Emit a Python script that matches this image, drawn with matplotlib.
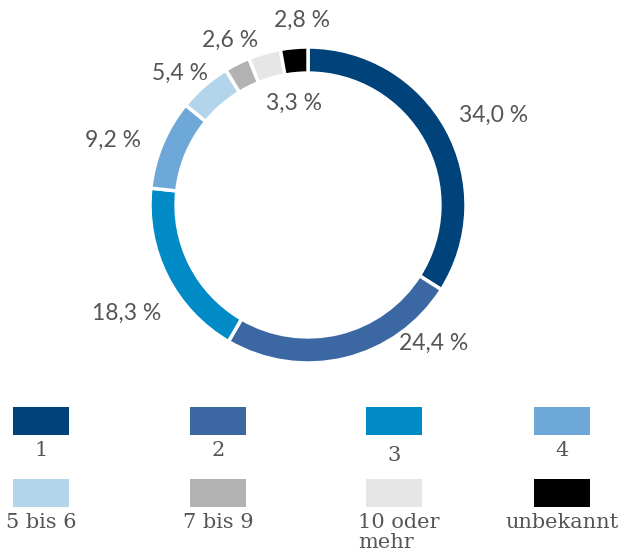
import matplotlib.pyplot as plt
from matplotlib.patches import Rectangle

# data
categories = ['1', '2', '3', '4', '5 bis 6', '7 bis 9', '10 oder\nmehr', 'unbekannt']
shares = [34.0, 24.4, 18.3, 9.2, 5.4, 2.6, 3.3, 2.8]
colors = ['#00427A', '#3B67A3', '#008BC6', '#6DA8D8', '#B2D5EB', '#B2B2B2', '#E6E6E6', '#000000']

# label positions in pixels (from top-left)
label_pos = [(494, 115), (434, 343), (127, 313), (113, 140),
             (180, 73), (230, 40), (294, 103), (302, 20)]

W, H = 635, 560
text_color = '#555555'

fig = plt.figure(figsize=(W / 100, H / 100), dpi=100)
ax = fig.add_axes([0, 0, 1, 1])

cx, cy, R = 308, H - 205, 158
ax.pie(shares, colors=colors, startangle=90, counterclock=False,
       center=(cx, cy), radius=R, frame=True,
       wedgeprops=dict(width=R * 0.165, edgecolor='white', linewidth=2.5))
ax.set_xlim(0, W)
ax.set_ylim(0, H)
ax.set_aspect('equal')
ax.axis('off')

for v, (x, y) in zip(shares, label_pos):
    ax.text(x, H - y, f'{v:.1f} %'.replace('.', ','), ha='center', va='center',
            fontsize=16.5, color=text_color, family='Lato')

# legend
col_x = [13, 190, 366, 534]
row_y = [407, 479]
sw, sh = 56, 28
for i, (cat, c) in enumerate(zip(categories, colors)):
    x = col_x[i % 4]
    y = row_y[i // 4]
    ax.add_patch(Rectangle((x, H - y - sh), sw, sh, facecolor=c, edgecolor='none'))
    ty = y + sh + 6
    if cat == '3':
        ty += 5
    ha = 'center'
    tx = x + sw / 2
    if cat.startswith('10'):
        tx = x - 8
        ha = 'left'
    ax.text(tx, H - ty, cat, ha=ha, va='top', fontsize=15, color=text_color,
            family='DejaVu Serif', linespacing=1.05)

fig.savefig('out.png', dpi=100)
